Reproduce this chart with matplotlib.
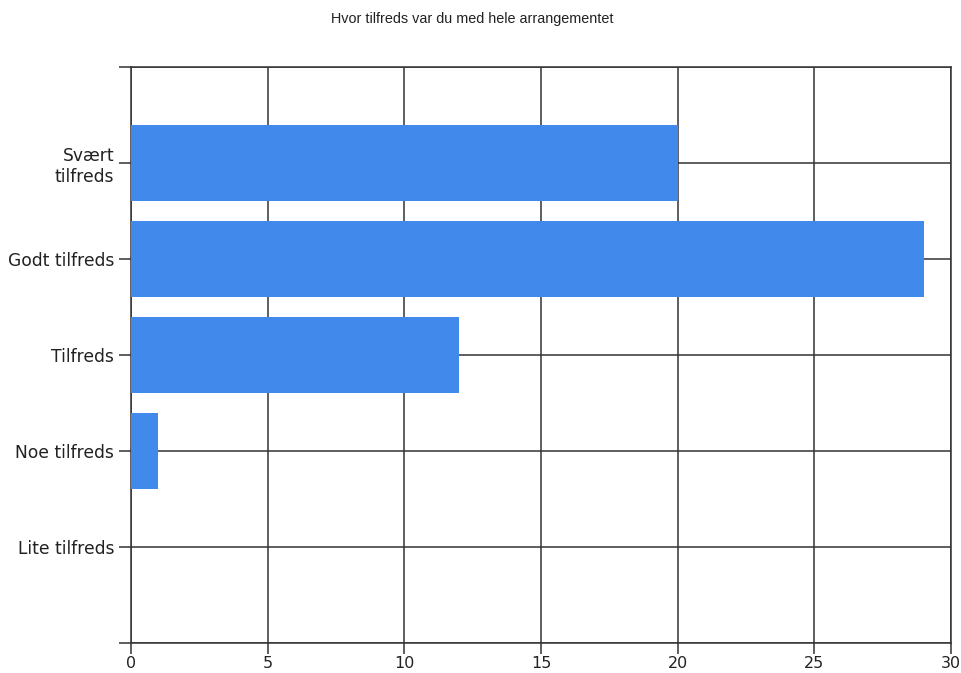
import matplotlib
matplotlib.use("Agg")
import matplotlib.pyplot as plt

categories = ["Svært\ntilfreds", "Godt tilfreds", "Tilfreds", "Noe tilfreds", "Lite tilfreds"]
values = [20, 29, 12, 1, 0]
xticks = [0, 5, 10, 15, 20, 25, 30]
title = "Hvor tilfreds var du med hele arrangementet"

plt.rcParams["font.family"] = ["DejaVu Sans"]

fig = plt.figure(figsize=(9.61, 6.73), dpi=100)
ax = fig.add_axes([131/961, 1-643/673, (951-131)/961, (643-67)/673])

pos = list(range(1, len(categories)+1))
ax.barh(pos, values, height=0.79, color="#4189EB", zorder=3)
ax.set_xlim(0, 30)
ax.set_ylim(6, 0)
ax.set_xticks(xticks)
ax.set_xticklabels([str(t) for t in xticks], fontsize=11.5, color="#222222")
ax.set_yticks([0] + pos + [6])
ax.set_yticklabels([""] + categories + [""], fontsize=12.3, color="#222222")
ax.tick_params(axis="y", length=9, width=1.1, color="#333333", pad=3)
ax.tick_params(axis="x", length=8, width=1.1, color="#333333", pad=1.5)
ax.grid(True, color="#333333", linewidth=1.1, zorder=1)
ax.set_axisbelow(True)
for s in ax.spines.values():
    s.set_color("#333333")
    s.set_linewidth(1.1)
    s.set_zorder(1)
fig.text(472/961, 1-19/673, title, ha="center", va="center", fontsize=10.4,
         family="Liberation Sans", color="#222222")
fig.savefig("out.png", dpi=100)
